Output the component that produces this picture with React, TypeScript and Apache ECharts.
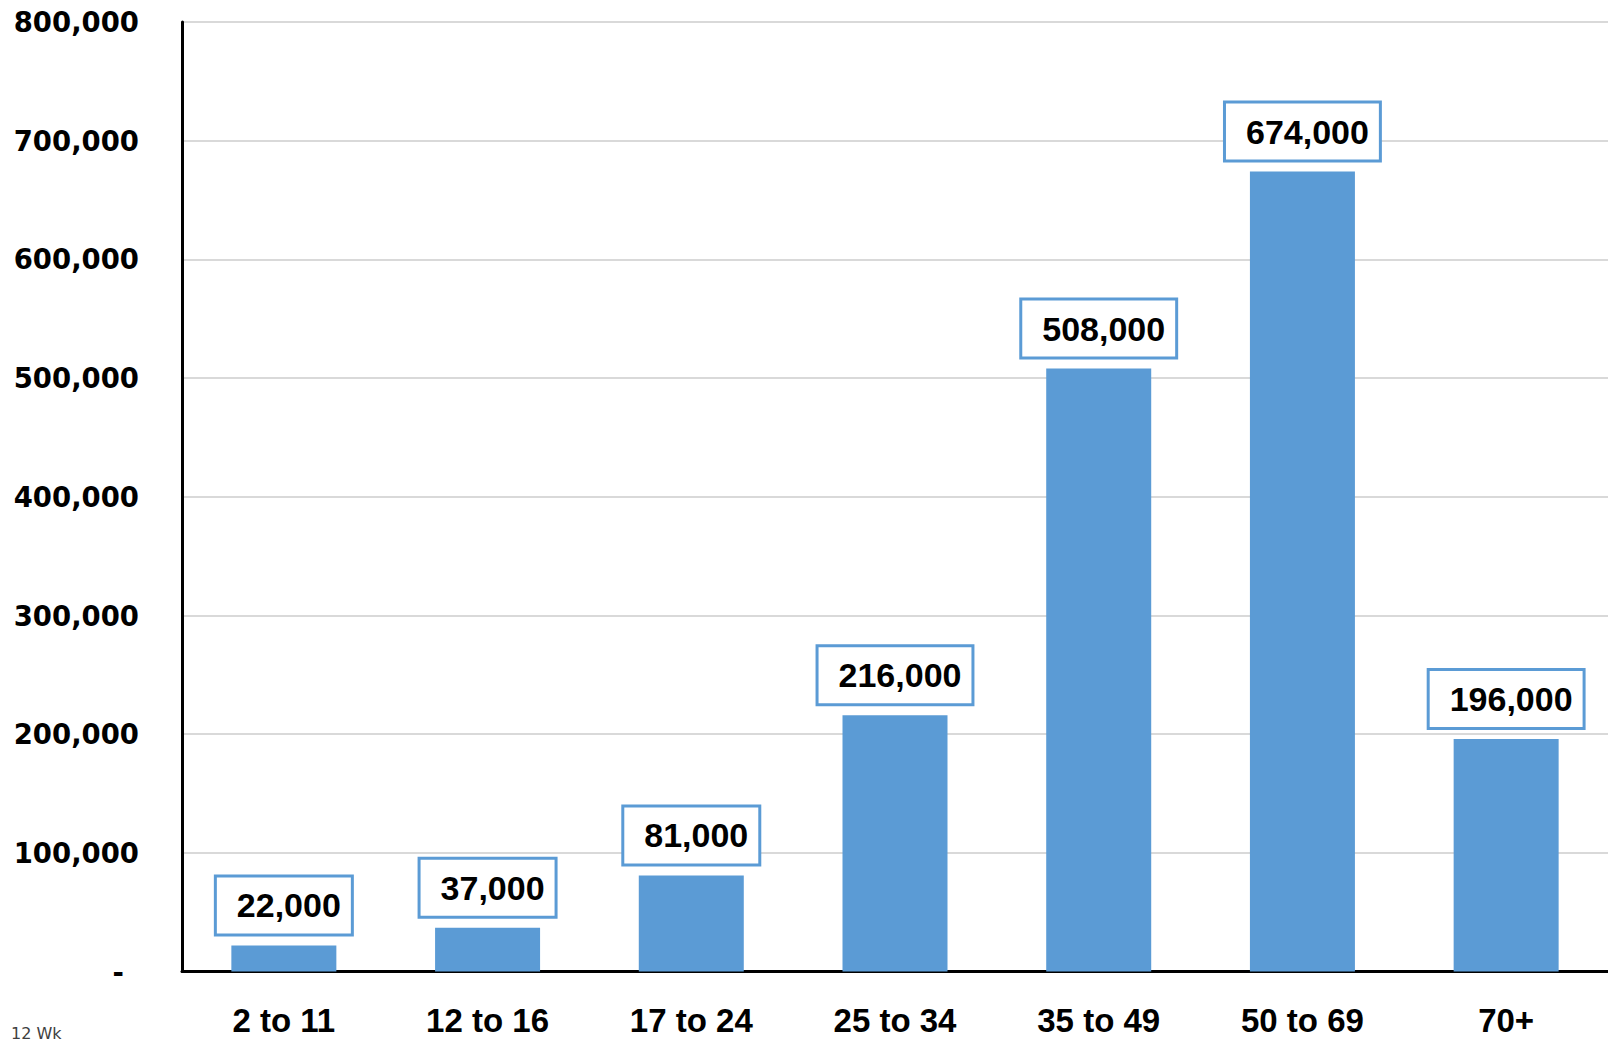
import React, { useEffect, useRef } from "react";
import * as echarts from "echarts";

const categories = ["2 to 11", "12 to 16", "17 to 24", "25 to 34", "35 to 49", "50 to 69", "70+"];
const values = [22000, 37000, 81000, 216000, 508000, 674000, 196000];
const yTicks = { min: 0, max: 800000, interval: 100000 };
const footnote = "12 Wk";

const fmt = (v: number) => v.toString().replace(/\B(?=(\d{3})+(?!\d))/g, ",");

export default function App() {
  const ref = useRef<HTMLDivElement>(null);
  useEffect(() => {
    document.body.style.margin = "0";
    const chart = echarts.init(ref.current!, null, { renderer: "svg" });
    chart.setOption({
      animation: false,
      backgroundColor: "#ffffff",
      grid: { left: 182, top: 22, width: 1437, height: 949.6, containLabel: false },
      xAxis: {
        type: "category",
        data: categories,
        axisLine: { show: true, lineStyle: { color: "#000000", width: 3 } },
        axisTick: { show: false },
        axisLabel: {
          margin: 32,
          fontFamily: "Liberation Sans",
          fontWeight: "bold",
          fontSize: 33,
          color: "#000000",
        },
      },
      yAxis: {
        type: "value",
        min: yTicks.min,
        max: yTicks.max,
        interval: yTicks.interval,
        axisLine: { show: true, lineStyle: { color: "#000000", width: 3 } },
        axisTick: { show: false },
        splitLine: { show: true, lineStyle: { color: "#d9d9d9", width: 2 } },
        axisLabel: {
          margin: 43,
          fontFamily: "DejaVu Sans",
          fontWeight: "bold",
          fontSize: 27.5,
          color: "#000000",
          formatter: (v: number) => (v === 0 ? "{d|-}" : fmt(v)),
          rich: {
            d: {
              fontFamily: "DejaVu Sans",
              fontWeight: "bold",
              fontSize: 27.5,
              color: "#000000",
              padding: [0, 15, 0, 0],
            },
          },
        },
      },
      series: [
        {
          type: "bar",
          data: values,
          barWidth: 105,
          itemStyle: { color: "#5b9bd5" },
          label: {
            show: true,
            position: "top",
            distance: 12,
            formatter: (p: any) => fmt(p.value),
            fontFamily: "Liberation Sans",
            fontWeight: "bold",
            fontSize: 34,
            lineHeight: 38,
            color: "#000000",
            backgroundColor: "#ffffff",
            borderColor: "#5b9bd5",
            borderWidth: 3,
            padding: [9, 10, 9, 20],
          },
        },
      ],
      graphic: [
        {
          type: "text",
          left: 11,
          top: 1025,
          style: {
            text: footnote,
            fontFamily: "DejaVu Sans",
            fontSize: 16,
            fill: "#404040",
          },
        },
      ],
    });
    return () => chart.dispose();
  }, []);
  return <div ref={ref} style={{ width: 1608, height: 1042 }} />;
}
